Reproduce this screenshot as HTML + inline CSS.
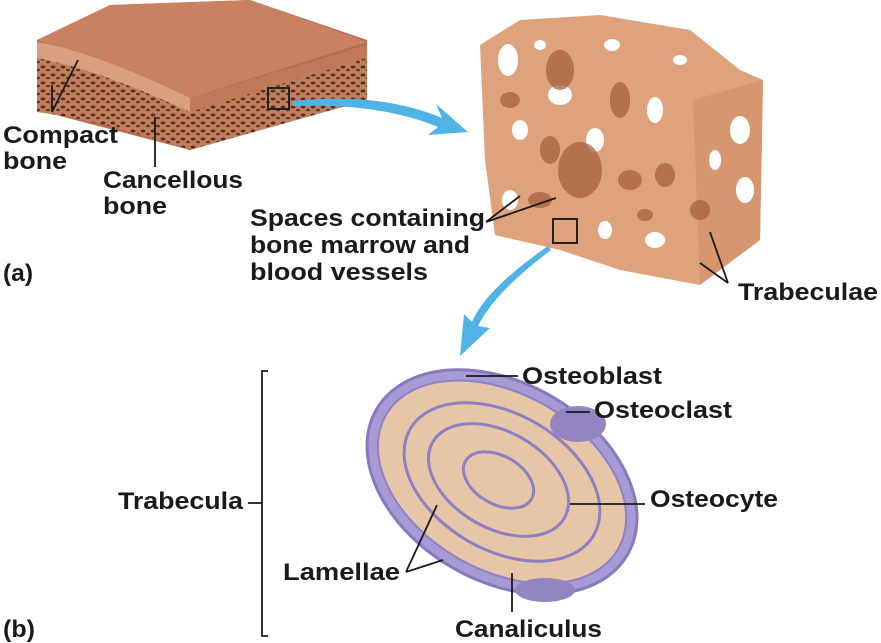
<!DOCTYPE html>
<html><head><meta charset="utf-8"><style>
html,body{margin:0;padding:0;background:#fff;}
svg{display:block}
text{font-family:"Liberation Sans",Arial,sans-serif;font-weight:bold;font-size:24px;fill:#1a1a1a}
</style></head><body>
<svg width="881" height="643" viewBox="0 0 881 643" xmlns="http://www.w3.org/2000/svg">
<defs>
<pattern id="sp" width="10" height="8" patternUnits="userSpaceOnUse">
<rect width="10" height="8" fill="#c08060"/>
<ellipse cx="3" cy="3" rx="2.5" ry="1.5" fill="#5a2e1c"/>
<ellipse cx="8" cy="6" rx="2" ry="1.3" fill="#6a3520"/>
</pattern>
</defs>
<polygon points="37,40 110,5 250,0 367,40 367,100 190,150 37,110" fill="#b86e4e"/>
<polygon points="37,40 110,5 250,0 367,42 190,98 90,55" fill="#c88262"/>
<path d="M37,42 Q90,50 190,98 L190,150 Q100,120 37,112Z" fill="url(#sp)"/>
<path d="M190,98 L367,45 L367,100 L190,150Z" fill="url(#sp)"/>
<path d="M37,42 Q90,50 190,98 L190,112 Q100,70 37,58Z" fill="#d9a080"/>
<path d="M190,98 L367,45 L367,58 L190,112Z" fill="#c07a5a"/>
<rect x="268" y="88" width="21" height="21" fill="none" stroke="#222" stroke-width="2"/>
<path d="M293,101 Q380,92 442,118 L436,104 L468,132 L428,135 L438,127 Q380,103 293,106Z" fill="#4fb3e6"/>
<polygon points="480,45 520,20 600,15 690,30 740,70 763,80 760,240 735,250 700,285 620,270 560,250 495,235 485,160" fill="#dea27c"/>
<polygon points="693,100 763,80 760,240 700,285" fill="#d69670"/>
<g fill="#fff">
<ellipse cx="508" cy="60" rx="10" ry="16"/><ellipse cx="560" cy="95" rx="12" ry="10"/>
<ellipse cx="520" cy="130" rx="8" ry="10"/><ellipse cx="595" cy="140" rx="9" ry="12"/>
<ellipse cx="655" cy="110" rx="8" ry="13"/><ellipse cx="612" cy="45" rx="8" ry="6"/>
<ellipse cx="740" cy="130" rx="10" ry="14"/><ellipse cx="745" cy="190" rx="9" ry="13"/>
<ellipse cx="715" cy="160" rx="6" ry="10"/><ellipse cx="655" cy="240" rx="10" ry="8"/>
<ellipse cx="510" cy="200" rx="8" ry="10"/><ellipse cx="605" cy="230" rx="7" ry="9"/>
<ellipse cx="680" cy="60" rx="7" ry="5"/><ellipse cx="540" cy="45" rx="6" ry="5"/>
</g>
<g fill="#a8603e" opacity="0.75">
<ellipse cx="580" cy="170" rx="22" ry="28"/><ellipse cx="630" cy="180" rx="12" ry="10"/>
<ellipse cx="665" cy="175" rx="10" ry="12"/><ellipse cx="550" cy="150" rx="10" ry="14"/>
<ellipse cx="620" cy="100" rx="10" ry="18"/><ellipse cx="700" cy="210" rx="10" ry="10"/>
<ellipse cx="540" cy="200" rx="12" ry="8"/><ellipse cx="645" cy="215" rx="8" ry="6"/>
<ellipse cx="560" cy="70" rx="14" ry="20"/><ellipse cx="510" cy="100" rx="10" ry="8"/>
</g>
<rect x="553" y="219" width="24" height="24" fill="none" stroke="#222" stroke-width="2"/>
<path d="M548,246 Q485,290 472,322 L464,314 L460,356 L490,328 L478,326 Q495,292 551,250Z" fill="#4fb3e6"/>
<g transform="rotate(30 502 482)">
<ellipse cx="502" cy="482" rx="145" ry="99" fill="#a89ad4" stroke="#8878c0" stroke-width="3"/>
<ellipse cx="502" cy="482" rx="134" ry="88" fill="#e6c6a6" stroke="#9080c8" stroke-width="2"/>
<g fill="none" stroke="#8e7ec4" stroke-width="3">
<ellipse cx="502" cy="482" rx="106" ry="68"/>
<ellipse cx="498" cy="482" rx="76" ry="48"/>
<ellipse cx="498" cy="482" rx="38" ry="24"/>
</g>
</g>
<ellipse cx="578" cy="424" rx="28" ry="18" fill="#9484c2"/>
<ellipse cx="545" cy="590" rx="30" ry="12" fill="#9484c2"/>
<g stroke="#1a1a1a" stroke-width="1.8" fill="none">
<path d="M52,112 L52,85 M52,112 L78,60"/>
<path d="M155,167 L155,117"/>
<path d="M486,222 L520,196 M486,222 L556,198"/>
<path d="M728,283 L700,263 M728,283 L710,232"/>
<path d="M268,371 L262,371 L262,636 L268,636 M262,503 L248,503"/>
<path d="M466,376 L518,376"/>
<path d="M566,412 L590,412"/>
<path d="M570,504 L645,504"/>
<path d="M406,572 L437,505 M406,572 L443,560"/>
<path d="M512,612 L512,573"/>
</g>
<text x="3" y="143" textLength="115" lengthAdjust="spacingAndGlyphs">Compact</text>
<text x="3" y="169" textLength="64" lengthAdjust="spacingAndGlyphs">bone</text>
<text x="103" y="188" textLength="140" lengthAdjust="spacingAndGlyphs">Cancellous</text>
<text x="103" y="214" textLength="64" lengthAdjust="spacingAndGlyphs">bone</text>
<text x="3" y="281" textLength="30" lengthAdjust="spacingAndGlyphs">(a)</text>
<text x="250" y="226" textLength="235" lengthAdjust="spacingAndGlyphs">Spaces containing</text>
<text x="250" y="253" textLength="220" lengthAdjust="spacingAndGlyphs">bone marrow and</text>
<text x="250" y="280" textLength="178" lengthAdjust="spacingAndGlyphs">blood vessels</text>
<text x="738" y="300" textLength="140" lengthAdjust="spacingAndGlyphs">Trabeculae</text>
<text x="522" y="384" textLength="140" lengthAdjust="spacingAndGlyphs">Osteoblast</text>
<text x="594" y="418" textLength="138" lengthAdjust="spacingAndGlyphs">Osteoclast</text>
<text x="650" y="507" textLength="128" lengthAdjust="spacingAndGlyphs">Osteocyte</text>
<text x="118" y="509" textLength="125" lengthAdjust="spacingAndGlyphs">Trabecula</text>
<text x="283" y="580" textLength="117" lengthAdjust="spacingAndGlyphs">Lamellae</text>
<text x="3" y="637" textLength="32" lengthAdjust="spacingAndGlyphs">(b)</text>
<text x="455" y="637" textLength="147" lengthAdjust="spacingAndGlyphs">Canaliculus</text>
</svg>
</body></html>
